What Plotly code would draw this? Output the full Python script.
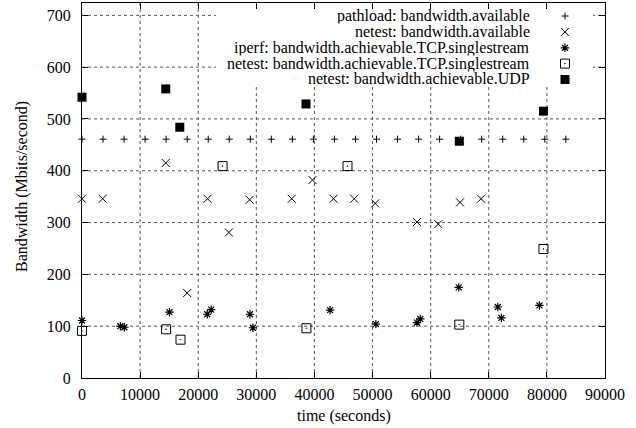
import plotly.graph_objects as go

# ---- data ----
pathload_t = [0, 3620, 7240, 10860, 14480, 18100, 21720, 25340, 28960, 32580, 36200, 39820,
              43440, 47060, 50680, 54300, 57920, 61540, 65160, 68780, 72400, 76020, 79640, 83260]
pathload_bw = [461] * 24

netest_av_t = [0, 3550, 14410, 18100, 21600, 25280, 28850, 36090, 39660, 43280, 46830,
               50450, 57640, 61310, 65050, 68670]
netest_av_bw = [346, 346, 415, 164, 346, 281, 344, 346, 382, 346, 346, 337, 301, 297, 339, 346]

iperf_t = [0, 6600, 7290, 15050, 21550, 22240, 28900, 29410, 42690, 50570, 57640, 58210,
           64830, 71550, 72170, 78720]
iperf_bw = [111, 100, 98, 127, 123, 132, 123, 97, 131, 104, 107, 114, 175, 137, 116, 140]

netest_tcp_t = [0, 14480, 16950, 24190, 38620, 45690, 64930, 79410]
netest_tcp_bw = [91, 94, 74, 409, 96, 409, 103, 249]

netest_udp_t = [0, 14410, 16830, 38550, 64930, 79410]
netest_udp_bw = [542, 558, 484, 529, 457, 515]

series_names = [
    "pathload: bandwidth.available",
    "netest: bandwidth.available",
    "iperf: bandwidth.achievable.TCP.singlestream",
    "netest: bandwidth.achievable.TCP.singlestream",
    "netest: bandwidth.achievable.UDP",
]

x_ticks = [0, 10000, 20000, 30000, 40000, 50000, 60000, 70000, 80000, 90000]
y_ticks = [0, 100, 200, 300, 400, 500, 600, 700]

FONT = "Liberation Serif"
FS = 16
BLACK = "#000000"
GRID = "#555555"

styles = [
    dict(symbol="cross-thin", size=5, line=dict(width=1, color=BLACK), color=BLACK),
    dict(symbol="x-thin", size=8, line=dict(width=1, color=BLACK), color=BLACK),
    dict(symbol="asterisk", size=7, line=dict(width=1.2, color=BLACK), color=BLACK),
    dict(symbol="square-open-dot", size=9, line=dict(width=1, color=BLACK), color=BLACK),
    dict(symbol="square", size=9, line=dict(width=0, color=BLACK), color=BLACK),
]

data = [
    (pathload_t, pathload_bw),
    (netest_av_t, netest_av_bw),
    (iperf_t, iperf_bw),
    (netest_tcp_t, netest_tcp_bw),
    (netest_udp_t, netest_udp_bw),
]

fig = go.Figure()
for (t, bw), st, name in zip(data, styles, series_names):
    fig.add_trace(go.Scatter(x=t, y=bw, mode="markers", marker=st, name=name,
                             showlegend=False, cliponaxis=False))

# ---- manual legend (text right-aligned, key on the right) ----
L, R, T, B = 82, 605, 3, 378
W, H = R - L, B - T
def fx(px):
    return (px - L) / W
def fy(py):
    return (B - py) / H

row_py = [16, 31.9, 47.8, 63.6, 79.5]
key_px = 565
text_px = 531

for st, name, py in zip(styles, series_names, row_py):
    fig.add_trace(go.Scatter(x=[fx(key_px)], y=[fy(py)], mode="markers", marker=st,
                             xaxis="x2", yaxis="y2", showlegend=False, hoverinfo="skip"))

annotations = []
for name, py in zip(series_names, row_py):
    annotations.append(dict(x=fx(text_px), y=fy(py), xref="paper", yref="paper",
                            text=name, showarrow=False, xanchor="right", yanchor="middle",
                            height=15.5, borderpad=0, valign="middle",
                            font=dict(family=FONT, size=FS, color=BLACK)))

annotations.append(dict(x=0.5, y=0, xref="paper", yref="paper", text="time (seconds)",
                        showarrow=False, xanchor="center", yanchor="top", yshift=-27,
                        font=dict(family=FONT, size=FS, color=BLACK)))
annotations.append(dict(x=fx(22), y=fy(187), xref="paper", yref="paper",
                        text="Bandwidth (Mbits/second)", textangle=-90,
                        showarrow=False, xanchor="center", yanchor="middle",
                        font=dict(family=FONT, size=FS, color=BLACK)))

# grid lines as dotted shapes (so the opaque key box can hide them)
shapes = []
for v in x_ticks[1:-1]:
    shapes.append(dict(type="line", xref="x", yref="paper", x0=v, x1=v, y0=0, y1=1,
                       line=dict(color=GRID, width=1, dash="dot"), layer="below"))
for v in y_ticks[1:]:
    shapes.append(dict(type="line", xref="paper", yref="y", x0=0, x1=1, y0=v, y1=v,
                       line=dict(color=GRID, width=1, dash="dot"), layer="below"))
shapes.append(dict(type="rect", xref="paper", yref="paper",
                   x0=fx(216), x1=fx(593), y0=fy(87), y1=1,
                   fillcolor="white", line=dict(width=0), layer="below"))

axis_common = dict(
    showline=True, linecolor=BLACK, linewidth=1, mirror="allticks",
    ticks="inside", ticklen=6, tickcolor=BLACK, tickwidth=1,
    showgrid=False, zeroline=False,
    tickfont=dict(family=FONT, size=FS, color=BLACK),
)

fig.update_layout(
    width=636, height=428,
    margin=dict(l=L, r=636 - R, t=T, b=428 - B),
    paper_bgcolor="white", plot_bgcolor="white",
    xaxis=dict(range=[0, 90000], tickvals=x_ticks, ticktext=[str(v) for v in x_ticks],
               ticklabelstandoff=2, **axis_common),
    yaxis=dict(range=[0, 723.8], tickvals=y_ticks, ticktext=[str(v) for v in y_ticks],
               ticklabelstandoff=7, **axis_common),
    xaxis2=dict(overlaying="x", range=[0, 1], visible=False),
    yaxis2=dict(overlaying="y", range=[0, 1], visible=False),
    annotations=annotations,
    shapes=shapes,
    showlegend=False,
)

fig.write_html("out.html", config={"displayModeBar": False},
               post_script="document.body.style.margin='0';document.body.style.overflow='hidden';")
